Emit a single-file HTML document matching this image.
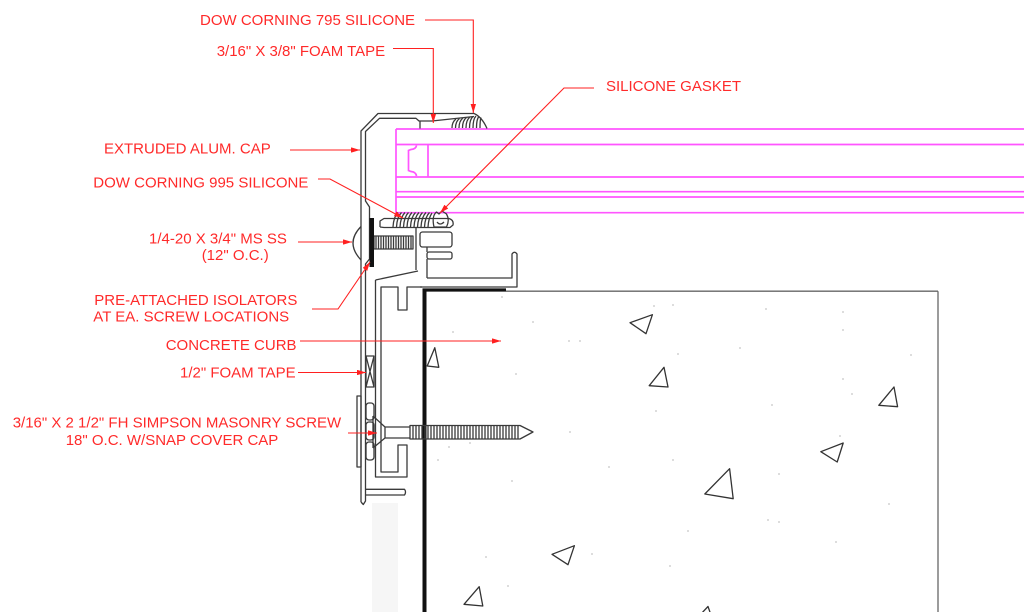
<!DOCTYPE html>
<html>
<head>
<meta charset="utf-8">
<style>
html,body{margin:0;padding:0;background:#fff;}
svg{display:block;}
text{font-family:"Liberation Sans",Arial,sans-serif;font-size:15px;fill:#ff2a2a;}
</style>
</head>
<body>
<svg width="1024" height="612" viewBox="0 0 1024 612" xmlns="http://www.w3.org/2000/svg">
<defs>
<marker id="ar" viewBox="0 0 10 6" refX="10" refY="3" markerWidth="9" markerHeight="5.4" markerUnits="userSpaceOnUse" orient="auto">
<path d="M0,0 L10,3 L0,6 Z" fill="#ff2020"/>
</marker>
</defs>
<rect width="1024" height="612" fill="#fff"/>
<!-- faint shading -->
<rect x="372" y="503" width="26" height="109" fill="#f6f6f6"/>

<!-- GLASS (magenta) -->
<g stroke="#ff55ff" stroke-width="1.7" fill="none">
<line x1="396" y1="129" x2="1024" y2="129"/>
<line x1="396" y1="144.5" x2="1024" y2="144.5"/>
<line x1="396" y1="177" x2="1024" y2="177"/>
<line x1="396" y1="191.7" x2="1024" y2="191.7"/>
<line x1="396" y1="197" x2="1024" y2="197"/>
<line x1="396" y1="212.7" x2="1024" y2="212.7"/>
<line x1="396" y1="129" x2="396" y2="212.7"/>
<line x1="428" y1="144.5" x2="428" y2="177"/>
<path d="M416.5,145.5 Q416,149 411,149.5 L408.5,150.5 L408.5,170.5 L411,171.5 Q416,172 416.5,176"/>
</g>

<!-- CONCRETE -->
<g fill="none">
<line x1="424.5" y1="289" x2="424.5" y2="612" stroke="#111" stroke-width="4"/>
<line x1="422.5" y1="290" x2="506" y2="290" stroke="#111" stroke-width="3.2"/>
<line x1="506" y1="291.2" x2="938" y2="291.2" stroke="#666" stroke-width="1.3"/>
<line x1="938" y1="291.2" x2="938" y2="612" stroke="#666" stroke-width="1.3"/>
</g>
<g stroke="#333" stroke-width="1.3" fill="none" stroke-linejoin="round">
<polygon points="630,322.7 652.4,314.7 646,333.7"/>
<polygon points="434.8,347.7 438.8,367.3 427.2,366"/>
<polygon points="664,367.3 668,387 649.2,385.7"/>
<polygon points="894,387 897.6,406.7 878.8,405.3"/>
<polygon points="843.2,443 837.2,462 820.8,451.7"/>
<polygon points="729.6,468.7 733.2,498.7 704.8,494"/>
<polygon points="574.4,545.7 568,564.7 552,554.3"/>
<polygon points="479.2,586.7 482.8,606 464,604.3"/>
<polyline points="700,615 708,606.5 711,615"/>
</g>
<g fill="#888">
<circle cx="502" cy="297" r="0.6"/><circle cx="654" cy="306" r="0.6"/><circle cx="673" cy="305" r="0.6"/>
<circle cx="766" cy="309" r="0.6"/><circle cx="843" cy="312" r="0.6"/><circle cx="533" cy="322" r="0.6"/>
<circle cx="453" cy="332" r="0.6"/><circle cx="569" cy="341" r="0.6"/><circle cx="580" cy="341" r="0.6"/>
<circle cx="843" cy="330" r="0.6"/><circle cx="740" cy="348" r="0.6"/><circle cx="678" cy="354" r="0.6"/>
<circle cx="911" cy="355" r="0.6"/><circle cx="516" cy="374" r="0.6"/><circle cx="843" cy="379" r="0.6"/>
<circle cx="852" cy="394" r="0.6"/><circle cx="772" cy="405" r="0.6"/><circle cx="656" cy="411" r="0.6"/>
<circle cx="570" cy="432" r="0.6"/><circle cx="840" cy="436" r="0.6"/><circle cx="449" cy="447" r="0.6"/>
<circle cx="470" cy="443" r="0.6"/><circle cx="438" cy="460" r="0.6"/><circle cx="673" cy="460" r="0.6"/>
<circle cx="609" cy="467" r="0.6"/><circle cx="779" cy="474" r="0.6"/><circle cx="512" cy="481" r="0.6"/>
<circle cx="889" cy="504" r="0.6"/><circle cx="768" cy="520" r="0.6"/><circle cx="779" cy="522" r="0.6"/>
<circle cx="688" cy="531" r="0.6"/><circle cx="836" cy="542" r="0.6"/><circle cx="486" cy="557" r="0.6"/>
<circle cx="592" cy="554" r="0.6"/><circle cx="670" cy="566" r="0.6"/><circle cx="508" cy="586" r="0.6"/>
</g>

<!-- ALUMINUM PROFILES -->
<g stroke="#3a3a3a" stroke-width="1.3" fill="none" stroke-linejoin="round">
<!-- cap -->
<path d="M361,502 L361,131 L378,113.5 L474,113.5 Q482,117 487,128.5"/>
<path d="M365.5,495 L365.5,264 L369.5,259 L369.5,207 L365.5,201 L365.5,131.5 L379.5,118.3 L416,118.3 L419,121 L432,121 L474,116.5"/>
<path d="M361,502 L363.3,504.5 L365.5,501 L365.5,495"/>
<path d="M365.5,489.3 L404.5,489.3 Q406.5,492 404.5,495 L365.5,495"/>
<line x1="420" y1="121" x2="420" y2="128.5"/>
<!-- silicone 795 -->
<path d="M452,128 Q452,122 456,119 M455.5,128 Q455.5,121.5 459.5,118.5 M459,128 Q459,121 463,118 M462.5,128 Q462.5,120.5 466.5,117.5 M466,128 Q466,120 470,117 M469.5,128 Q469.5,119.5 473,116.5 M473,128 Q473,119 476,116 M476.5,128 Q476.5,119 479,116.5 M480,128 Q480,120 481,117.5"/>
<!-- channel subframe -->
<path d="M375.5,280 L375.5,477 L407,477 L407,445 L398,445 L398,472 L381,472 L381,287 L398,287 L398,310 L407,310 L407,287 L422,287"/>
<path d="M375.5,280 L418,271"/>
<!-- base profile -->
<path d="M380,227 L380,221 L384,218.5 L449,218.5 Q454,220 453,225 L450,227.5 L420,227.5 L384,227.5 L380,227"/>
<rect x="420" y="232" width="32" height="15" rx="2.5"/>
<rect x="427" y="252" width="25" height="7" rx="2"/>
<path d="M416,227.5 L416,270 M427,259 L427,278 M427,247 L427,252"/>
<path d="M427,278 L512,278 L512,254 Q514.5,250.5 517,254 L517,287 L420,287"/>
<!-- gasket -->
<path d="M434,227 Q431.5,216 436.5,212 L439,214 L442,211 L446.5,214 Q450,220 446.5,227 Z"/>
<path d="M437,222 Q440,226 444,222" />
<!-- silicone 995 -->
<path d="M393,227 Q393.5,217 398,212.5 M396.5,227 Q397,217 401.5,212.5 M400,227 Q400.5,217 405,212.5 M403.5,227 Q404,217 408.5,212.5 M407,227 Q407.5,217 412,212.5 M410.5,227 Q411,217 415.5,212.5 M414,227 Q414.5,217 419,212.5 M417.5,227 Q418,217 422.5,212.5 M421,227 Q421.5,217 426,212.5 M424.5,227 Q425,217 429.5,212.5 M428,227 Q428.5,218 432,213"/>
<!-- 1/4-20 screw -->
<path d="M361,226.5 Q345,243 361,260"/>
<rect x="374" y="236" width="39" height="13"/>
<path d="M376,236 V249 M378.5,236 V249 M381,236 V249 M383.5,236 V249 M386,236 V249 M388.5,236 V249 M391,236 V249 M393.5,236 V249 M396,236 V249 M398.5,236 V249 M401,236 V249 M403.5,236 V249 M406,236 V249 M408.5,236 V249 M411,236 V249"/>
<!-- foam tape 1/2 -->
<rect x="366" y="356" width="8" height="31"/>
<path d="M366,356 L374,387 M374,356 L366,387"/>
<!-- snap cover -->
<rect x="357" y="396" width="4" height="71"/>
<rect x="366" y="403" width="8" height="17" rx="3"/>
<rect x="366" y="422" width="8" height="18" rx="3"/>
<rect x="366" y="442" width="8" height="18" rx="3"/>
<!-- masonry screw -->
<path d="M373,416 L385,427 L410,427 M373,448 L385,438 L410,438 M373,416 L373,448 M385,427 L385,438"/>
<path d="M410,425.5 L520,425.5 L533,432 L520,439 L410,439 Z"/>
<path d="M413,425.5V439 M416,425.5V439 M419,425.5V439 M422,425.5V439 M425,425.5V439 M428,425.5V439 M431,425.5V439 M434,425.5V439 M437,425.5V439 M440,425.5V439 M443,425.5V439 M446,425.5V439 M449,425.5V439 M452,425.5V439 M455,425.5V439 M458,425.5V439 M461,425.5V439 M464,425.5V439 M467,425.5V439 M470,425.5V439 M473,425.5V439 M476,425.5V439 M479,425.5V439 M482,425.5V439 M485,425.5V439 M488,425.5V439 M491,425.5V439 M494,425.5V439 M497,425.5V439 M500,425.5V439 M503,425.5V439 M506,425.5V439 M509,425.5V439 M512,425.5V439 M515,425.5V439 M518,425.5V439"/>
</g>
<!-- isolator -->
<rect x="369.5" y="218" width="4.5" height="49" fill="#111"/>

<!-- LEADERS -->
<g stroke="#ff2020" stroke-width="1.1" fill="none">
<path d="M425,20 L473.3,20 L473.3,113" marker-end="url(#ar)"/>
<path d="M393,48.5 L433.3,48.5 L433.3,123" marker-end="url(#ar)"/>
<path d="M290,150 L360,150" marker-end="url(#ar)"/>
<path d="M318,179 L330,179 L403,218" marker-end="url(#ar)"/>
<path d="M594,88 L564,88 L440,213" marker-end="url(#ar)"/>
<path d="M298,242 L352,242" marker-end="url(#ar)"/>
<path d="M312,309 L338,309 L370,262" marker-end="url(#ar)"/>
<path d="M300,341 L501,341" marker-end="url(#ar)"/>
<path d="M298,372.5 L366,372.5" marker-end="url(#ar)"/>
<path d="M348,433 L377,433" marker-end="url(#ar)"/>
</g>

<!-- LABELS -->
<text x="200" y="25">DOW CORNING 795 SILICONE</text>
<text x="216.7" y="56">3/16" X 3/8" FOAM TAPE</text>
<text x="606" y="91">SILICONE GASKET</text>
<text x="104" y="153.3">EXTRUDED ALUM. CAP</text>
<text x="93.3" y="187.7">DOW CORNING 995 SILICONE</text>
<text x="149" y="243.3">1/4-20 X 3/4" MS SS</text>
<text x="201.7" y="260">(12" O.C.)</text>
<text x="94.3" y="305">PRE-ATTACHED ISOLATORS</text>
<text x="93.3" y="321.7">AT EA. SCREW LOCATIONS</text>
<text x="165.7" y="350">CONCRETE CURB</text>
<text x="180" y="377.7">1/2" FOAM TAPE</text>
<text x="12.7" y="427.7">3/16" X 2 1/2" FH SIMPSON MASONRY SCREW</text>
<text x="65.7" y="445">18" O.C. W/SNAP COVER CAP</text>
</svg>
</body>
</html>
